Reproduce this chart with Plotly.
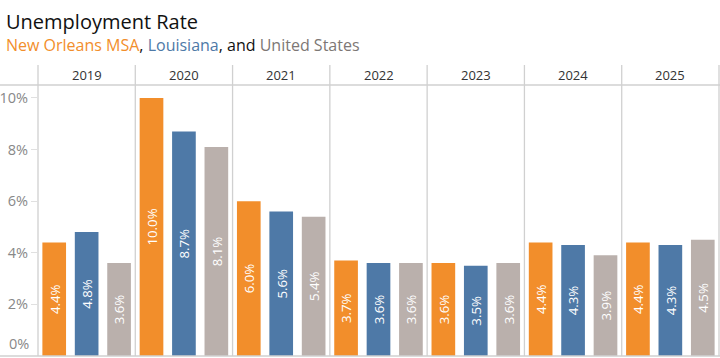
import plotly.graph_objects as go

years = ["2019", "2020", "2021", "2022", "2023", "2024", "2025"]
new_orleans = [4.4, 10.0, 6.0, 3.7, 3.6, 4.4, 4.4]
louisiana = [4.8, 8.7, 5.6, 3.6, 3.5, 4.3, 4.3]
united_states = [3.6, 8.1, 5.4, 3.6, 3.6, 3.9, 4.5]
series_names = ["New Orleans MSA", "Louisiana", "United States"]
colors = ["#F28E2B", "#4E79A7", "#BAB0AC"]
y_ticks = [0, 2, 4, 6, 8, 10]
y_tick_labels = ["0%", "2%", "4%", "6%", "8%", "10%"]

W, H = 720, 358
ML, MR, MT, MB = 38, 1, 85, 2
PW = W - ML - MR
PH = H - MT - MB
FONT = "Open Sans"
LINE = "#d0d0d0"

fig = go.Figure()
for name, vals, col in zip(series_names, [new_orleans, louisiana, united_states], colors):
    fig.add_trace(go.Bar(
        x=years, y=vals, name=name, marker=dict(color=col, line=dict(width=0)),
        text=[f"{v:.1f}%" for v in vals], textposition="inside", insidetextanchor="middle",
        textangle=-90, textfont=dict(color="white", size=15, family=FONT),
        hovertemplate="%{x}<br>" + name + ": %{y:.1f}%<extra></extra>",
    ))

shapes = []
n = len(years)
hdr = 20 / PH
for i in range(n + 1):
    shapes.append(dict(type="line", xref="paper", yref="paper", x0=i / n, x1=i / n,
                       y0=0, y1=1 + hdr, line=dict(color=LINE, width=1.3)))
for yv in [1, 0]:
    shapes.append(dict(type="line", xref="paper", yref="paper", x0=-ML / PW, x1=1 + MR / PW,
                       y0=yv, y1=yv, line=dict(color=LINE, width=1.3)))

annotations = []
for i, yr in enumerate(years):
    annotations.append(dict(x=(i + 0.5) / n, xref="paper", y=1 + hdr / 2, yref="paper", text=yr,
                            showarrow=False, font=dict(size=13, color="#333", family=FONT),
                            xanchor="center", yanchor="middle"))
annotations.append(dict(x=0, xref="paper", y=y_ticks[0], yref="y", text=y_tick_labels[0],
                        showarrow=False, xanchor="right", yanchor="bottom", xshift=-7, yshift=1,
                        font=dict(size=14.5, color="#888", family=FONT)))
annotations.append(dict(x=-(ML - 4) / PW, xref="paper", y=1 + (MT - 21) / PH, yref="paper",
                        text="Unemployment Rate", showarrow=False, xanchor="left", yanchor="middle",
                        font=dict(size=20, color="#111", family=FONT)))
annotations.append(dict(x=-(ML - 4) / PW, xref="paper", y=1 + (MT - 45) / PH, yref="paper",
                        text=("<span style='color:#F28E2B'>New Orleans MSA</span>, "
                              "<span style='color:#4E79A7'>Louisiana</span>, and "
                              "<span style='color:#7d7775'>United States</span>"),
                        showarrow=False, xanchor="left", yanchor="middle",
                        font=dict(size=16, color="#111", family=FONT)))

fig.update_layout(
    width=W, height=H, margin=dict(l=ML, r=MR, t=MT, b=MB, autoexpand=False),
    paper_bgcolor="white", plot_bgcolor="white",
    barmode="group", bargap=0.0, bargroupgap=0.27,
    showlegend=False, shapes=shapes, annotations=annotations,
    xaxis=dict(type="category", range=[-0.5, n - 0.5], showticklabels=False, ticks="",
               showgrid=False, zeroline=False, showline=False, automargin=False),
    yaxis=dict(range=[0, 10.5], tickvals=y_ticks[1:], ticktext=y_tick_labels[1:],
               ticks="outside", ticklen=6, tickcolor="#e0e0e0", showgrid=False,
               zeroline=False, showline=False, automargin=False,
               tickfont=dict(size=14.5, color="#888", family=FONT)),
    font=dict(family=FONT),
    uniformtext=dict(minsize=8),
)

fig.write_html("out.html", config={"displayModeBar": False},
               post_script="document.body.style.margin='0';document.body.style.overflow='hidden';")
